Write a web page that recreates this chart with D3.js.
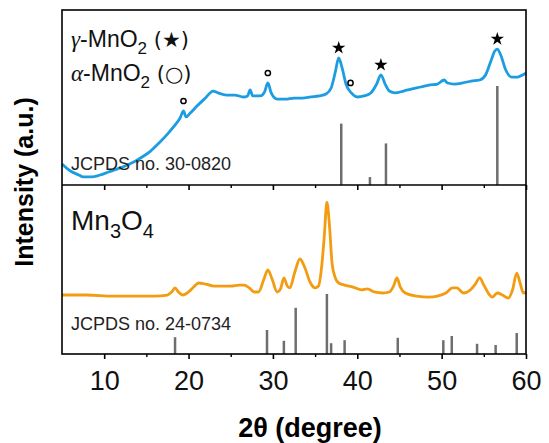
<!DOCTYPE html>
<html>
<head>
<meta charset="utf-8">
<script src="https://cdn.jsdelivr.net/npm/d3@7"></script>
<style>
  body { margin: 0; background: #fff; }
  text { font-family: "Liberation Sans", Arial, sans-serif; }
</style>
</head>
<body>
<div id="root"></div>
<script>
// top panel: gamma/alpha MnO2 pattern (2theta, intensity)
const mno2Angle = [5.0, 6.0, 7.0, 7.5, 8.5, 9.5, 10.5, 11.5, 12.5, 13.5, 14.5, 15.5, 16.5, 17.5, 18.5, 19.0, 19.4, 19.7, 20.2, 21.0,
  22.0, 22.9, 23.5, 24.5, 25.5, 26.5, 27.0, 27.3, 27.6, 28.5, 29.0, 29.4, 29.8, 30.5, 31.5, 32.5, 33.5, 34.5, 35.5, 36.3,
  36.9, 37.4, 37.8, 38.2, 38.7, 39.3, 40.0, 40.8, 41.6, 42.3, 42.8, 43.3, 43.8, 44.5, 45.5, 46.5, 47.5, 48.5, 49.5, 50.3,
  50.7, 51.5, 52.5, 53.5, 54.5, 55.2, 55.8, 56.3, 56.6, 57.0, 57.6, 58.3, 59.0, 59.6, 60.0];
const mno2Int = [12.0, 8.0, 5.7, 4.6, 4.6, 5.7, 7.4, 9.1, 10.9, 13.1, 16.0, 19.4, 24.0, 29.1, 34.9, 38.3, 42.3, 38.9, 41.1, 45.1,
  49.7, 53.7, 52.6, 51.4, 51.4, 50.3, 50.9, 54.3, 50.9, 50.9, 53.1, 58.3, 52.6, 49.1, 49.1, 49.7, 49.7, 50.3, 50.9, 52.0,
  55.4, 64.6, 72.6, 66.9, 57.1, 52.6, 50.3, 50.9, 52.6, 57.7, 62.9, 57.7, 53.7, 52.6, 53.7, 54.9, 56.0, 57.1, 57.7, 60.0,
  58.3, 57.7, 58.3, 59.4, 60.0, 62.9, 70.3, 76.6, 77.7, 74.3, 65.7, 61.7, 61.7, 62.9, 64.0];

// bottom panel: Mn3O4 pattern
const mn3o4Angle = [5.0, 8.0, 11.0, 14.0, 16.0, 17.5, 18.0, 18.4, 18.8, 19.3, 20.0, 20.6, 21.2, 22.0, 23.0, 24.0, 25.0, 26.0, 26.6, 27.2,
  27.8, 28.3, 28.9, 29.4, 29.9, 30.5, 30.9, 31.3, 31.7, 32.0, 32.6, 33.2, 33.8, 34.4, 35.0, 35.4, 35.8, 36.1, 36.4, 36.7,
  37.0, 37.4, 37.8, 38.5, 39.5, 40.5, 41.2, 42.0, 43.0, 43.8, 44.3, 44.7, 45.1, 45.7, 47.0, 48.5, 49.5, 50.5, 51.3, 51.8,
  52.6, 53.4, 54.0, 54.5, 55.0, 55.6, 56.0, 56.6, 57.2, 57.9, 58.4, 58.9, 59.3, 59.7, 60.0];
const mn3o4Int = [34.9, 34.9, 34.3, 34.3, 34.3, 34.9, 36.7, 39.1, 36.7, 34.9, 36.7, 39.6, 42.0, 41.4, 40.2, 40.2, 40.2, 40.8, 40.8, 39.1,
  36.7, 36.7, 43.8, 49.7, 44.4, 36.7, 38.5, 45.0, 40.2, 39.1, 48.5, 56.2, 50.9, 42.6, 39.1, 40.2, 52.7, 70.4, 89.9, 76.3,
  54.4, 45.0, 42.0, 40.8, 39.6, 37.9, 38.5, 36.7, 36.1, 36.7, 40.2, 45.0, 39.6, 36.1, 34.3, 33.7, 34.3, 36.1, 39.1, 39.1,
  36.1, 37.9, 41.4, 45.0, 40.8, 35.5, 33.7, 36.1, 34.9, 33.1, 37.9, 47.9, 42.0, 36.1, 36.7];

// reference lines
const ref1Angle = [38.1, 41.5, 43.4, 56.6];
const ref1Int = [62, 8, 42, 100];
const ref2Angle = [18.4, 29.3, 31.3, 32.7, 36.4, 36.9, 38.5, 44.8, 50.2, 51.2, 54.2, 56.4, 58.9];
const ref2Int = [28, 40, 22, 77, 100, 18, 23, 27, 23, 30, 17, 15, 35];

// phase markers
const starAngles = [37.8, 42.8, 56.6];
const circleAngles = [19.4, 29.4, 39.2];

const xTicks = [10, 20, 30, 40, 50, 60];
const xMinor = [15, 25, 35, 45, 55];

const w = 549, h = 443;
const padL = 62, padR = 526, padT = 10, padMid = 185, padB = 354;

const svg = d3.select("#root").append("svg")
  .attr("width", w).attr("height", h);

const x = d3.scaleLinear().domain([5, 60]).range([padL, padR]);
const yTop = d3.scaleLinear().domain([0, 100]).range([padMid, padT]);
const yBot = d3.scaleLinear().domain([0, 100]).range([padB, padMid]);
const barTop = d3.scaleLinear().domain([0, 100]).range([0, 99]);
const barBot = d3.scaleLinear().domain([0, 100]).range([0, 60]);

// reference bars
const g = svg.append("g");
g.selectAll(".bar1").data(ref1Angle).enter().append("line")
  .attr("x1", d => x(d)).attr("x2", d => x(d))
  .attr("y1", padMid).attr("y2", (d, i) => padMid - barTop(ref1Int[i]))
  .attr("stroke", "#6e6e6e").attr("stroke-width", 2.5);
g.selectAll(".bar2").data(ref2Angle).enter().append("line")
  .attr("x1", d => x(d)).attr("x2", d => x(d))
  .attr("y1", padB).attr("y2", (d, i) => padB - barBot(ref2Int[i]))
  .attr("stroke", "#6e6e6e").attr("stroke-width", 2.5);

// patterns
const line1 = d3.line().x(d => x(d[0])).y(d => yTop(d[1])).curve(d3.curveMonotoneX);
const line2 = d3.line().x(d => x(d[0])).y(d => yBot(d[1])).curve(d3.curveMonotoneX);
const pts1 = mno2Angle.map((a, i) => [a, mno2Int[i]]);
const pts2 = mn3o4Angle.map((a, i) => [a, mn3o4Int[i]]);

svg.append("path").datum(pts1).attr("d", line1)
  .attr("fill", "none").attr("stroke", "#1c9de2").attr("stroke-width", 2.8);
svg.append("path").datum(pts2).attr("d", line2)
  .attr("fill", "none").attr("stroke", "#f39c12").attr("stroke-width", 2.8);

// markers sit a little above the local maximum of the curve
function markY(a) {
  const near = pts1.filter(p => Math.abs(p[0] - a) <= 0.45);
  return yTop(d3.max(near, p => p[1])) - 10;
}
svg.selectAll(".star").data(starAngles).enter().append("path")
  .attr("d", d3.symbol().type(d3.symbolStar).size(55))
  .attr("transform", d => `translate(${x(d)},${markY(d)})`)
  .attr("fill", "#000");
svg.selectAll(".circ").data(circleAngles).enter().append("circle")
  .attr("cx", d => x(d)).attr("cy", d => markY(d)).attr("r", 2.6)
  .attr("fill", "none").attr("stroke", "#000").attr("stroke-width", 1.5);

// frames
svg.append("rect").attr("x", padL).attr("y", padT)
  .attr("width", padR - padL).attr("height", padB - padT)
  .attr("fill", "none").attr("stroke", "#000").attr("stroke-width", 1.6);
svg.append("line").attr("x1", padL).attr("x2", padR).attr("y1", padMid).attr("y2", padMid)
  .attr("stroke", "#000").attr("stroke-width", 1.6);

// ticks
const xAxis = d3.axisBottom(x).tickValues(xTicks).tickSize(5).tickPadding(12);
const ax = svg.append("g").attr("transform", `translate(0,${padB})`).call(xAxis);
ax.select(".domain").remove();
ax.selectAll("line").attr("stroke-width", 1.6);
ax.selectAll("text").attr("font-size", 27).attr("fill", "#111")
  .style("font-family", "'Liberation Sans', Arial, sans-serif");

svg.append("g").attr("transform", `translate(0,${padB})`)
  .call(d3.axisBottom(x).tickValues(xMinor).tickSize(3).tickFormat(""))
  .call(s => s.select(".domain").remove())
  .selectAll("line").attr("stroke-width", 1.4);

svg.append("g").attr("transform", `translate(0,${padMid})`)
  .call(d3.axisBottom(x).tickValues(xTicks).tickSize(5).tickFormat(""))
  .call(s => s.select(".domain").remove())
  .selectAll("line").attr("stroke-width", 1.6);
svg.append("g").attr("transform", `translate(0,${padMid})`)
  .call(d3.axisBottom(x).tickValues(xMinor).tickSize(3).tickFormat(""))
  .call(s => s.select(".domain").remove())
  .selectAll("line").attr("stroke-width", 1.4);

// labels
function phaseLabel(y, greek, sym) {
  const t = svg.append("text").attr("x", 71).attr("y", y).attr("font-size", 23).attr("fill", "#111");
  t.append("tspan").text(greek).style("font-family", "'Liberation Serif', serif").attr("font-style", "italic");
  t.append("tspan").text("-MnO");
  t.append("tspan").text("2").attr("font-size", 17).attr("dy", 7);
  t.append("tspan").text(" (" + sym + ")").attr("dy", -7)
    .style("font-family", "'DejaVu Sans', sans-serif").attr("font-size", 21);
}
phaseLabel(47, "γ", "★");
phaseLabel(81, "α", "○");

const mn = svg.append("text").attr("x", 71).attr("y", 230).attr("font-size", 28).attr("fill", "#111");
mn.append("tspan").text("Mn");
mn.append("tspan").text("3").attr("font-size", 20).attr("dy", 8);
mn.append("tspan").text("O").attr("dy", -8);
mn.append("tspan").text("4").attr("font-size", 20).attr("dy", 8);

svg.append("text").attr("x", 71).attr("y", 170).attr("font-size", 18).attr("fill", "#222")
  .text("JCPDS no. 30-0820");
svg.append("text").attr("x", 71).attr("y", 330).attr("font-size", 18).attr("fill", "#222")
  .text("JCPDS no. 24-0734");

svg.append("text")
  .attr("transform", `translate(33,${(padT + padB) / 2}) rotate(-90)`)
  .attr("text-anchor", "middle").attr("font-size", 25).attr("font-weight", "bold")
  .text("Intensity (a.u.)");

svg.append("text").attr("x", 310).attr("y", 437)
  .attr("text-anchor", "middle").attr("font-size", 27).attr("font-weight", "bold")
  .text("2θ (degree)");
</script>
</body>
</html>
